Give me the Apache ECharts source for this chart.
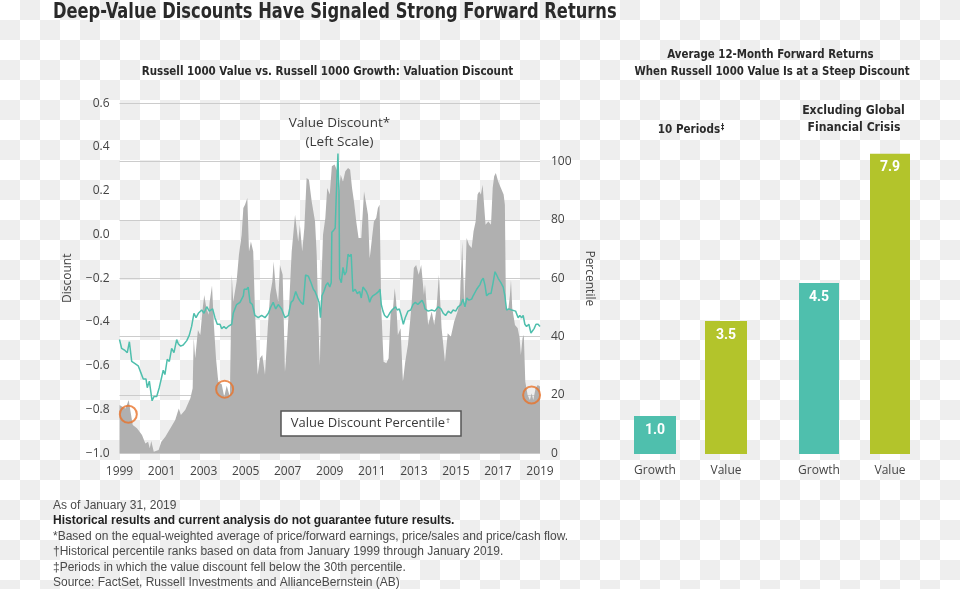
<!DOCTYPE html>
<html>
<head>
<meta charset="utf-8">
<script src="https://cdn.jsdelivr.net/npm/echarts@6/dist/echarts.min.js"></script>
<style>
  html, body { margin: 0; padding: 0; }
  body {
    width: 960px; height: 589px; overflow: hidden;
    background-color: #ffffff;
    background-image: conic-gradient(#eeeeee 25%, #ffffff 0 50%, #eeeeee 0 75%, #ffffff 0);
    background-size: 40px 40px;
  }
  #chart { width: 960px; height: 589px; }
</style>
</head>
<body>
<div id="chart"></div>
<script>
// ---------------- DATA ----------------
// Value discount percentile (right scale), [year, percentile]
const percentilePoints = [
  [1999.00,16.6],[1999.28,15.4],[1999.44,18.3],[1999.51,14.9],[1999.63,9.7],[1999.83,8.6],[2000.07,6.3],[2000.23,3.4],[2000.36,4.0],[2000.44,1.7],
  [2000.51,4.2],[2000.63,0.5],[2000.86,1.1],[2000.99,4.0],[2001.18,5.7],[2001.42,8.6],[2001.65,11.4],[2001.82,15.4],[2001.92,13.1],[2002.13,14.9],
  [2002.37,18.9],[2002.48,22.3],[2002.53,39.5],[2002.60,32.6],[2002.73,42.3],[2002.84,40.6],[2002.96,49.8],[2003.03,54.3],[2003.13,49.8],[2003.24,47.5],
  [2003.29,52.0],[2003.40,57.5],[2003.49,44.0],[2003.59,32.6],[2003.70,24.4],[2003.86,23.7],[2003.98,19.4],[2004.10,23.2],[2004.25,19.4],[2004.34,61.2],
  [2004.41,52.0],[2004.57,58.9],[2004.68,68.1],[2004.81,74.9],[2004.89,84.1],[2004.97,85.2],[2005.08,87.5],[2005.16,69.2],[2005.25,72.6],[2005.36,69.2],
  [2005.44,49.8],[2005.57,26.9],[2005.68,32.6],[2005.79,33.7],[2005.92,26.9],[2006.05,42.9],[2006.16,54.3],[2006.27,58.9],[2006.33,65.8],[2006.43,56.6],
  [2006.55,52.0],[2006.63,64.6],[2006.76,61.2],[2006.87,28.0],[2006.95,36.0],[2007.06,49.8],[2007.19,69.2],[2007.35,81.8],[2007.43,82.4],[2007.50,72.6],
  [2007.58,78.4],[2007.69,69.2],[2007.79,77.2],[2007.90,94.4],[2008.01,93.8],[2008.14,86.4],[2008.30,79.5],[2008.38,68.1],[2008.46,45.0],[2008.53,30.0],
  [2008.61,60.0],[2008.68,74.9],[2008.79,80.7],[2008.88,91.0],[2009.00,88.7],[2009.10,98.4],[2009.23,99.0],[2009.36,96.7],[2009.42,88.7],[2009.52,95.5],
  [2009.63,93.2],[2009.74,96.7],[2009.87,97.8],[2009.97,97.2],[2010.06,91.0],[2010.15,86.4],[2010.26,79.5],[2010.37,73.8],[2010.50,73.8],[2010.63,89.8],
  [2010.74,85.2],[2010.82,81.8],[2010.90,66.9],[2011.01,73.8],[2011.10,79.5],[2011.21,80.7],[2011.29,84.1],[2011.37,85.2],[2011.45,49.8],[2011.56,31.4],
  [2011.69,30.9],[2011.80,32.6],[2011.90,48.6],[2012.01,49.8],[2012.09,56.6],[2012.16,52.0],[2012.24,40.6],[2012.37,42.9],[2012.48,24.6],[2012.59,31.4],
  [2012.72,37.2],[2012.88,49.8],[2013.00,63.5],[2013.11,64.6],[2013.23,61.2],[2013.35,64.6],[2013.48,54.3],[2013.53,58.0],[2013.68,44.0],[2013.85,48.6],
  [2013.97,44.0],[2014.08,49.8],[2014.19,61.2],[2014.32,42.9],[2014.48,31.4],[2014.61,41.2],[2014.76,40.0],[2014.92,45.2],[2015.08,48.6],[2015.19,52.0],
  [2015.30,72.6],[2015.40,49.8],[2015.51,73.8],[2015.62,71.5],[2015.75,70.4],[2015.84,76.1],[2015.94,79.5],[2016.03,88.7],[2016.11,89.8],[2016.19,88.7],
  [2016.27,92.1],[2016.35,91.5],[2016.41,78.4],[2016.54,79.5],[2016.67,78.4],[2016.75,91.0],[2016.82,95.0],[2016.90,96.1],[2017.01,93.2],[2017.14,91.0],
  [2017.27,88.7],[2017.33,85.2],[2017.38,49.8],[2017.49,49.2],[2017.57,54.3],[2017.62,59.5],[2017.68,49.8],[2017.81,44.0],[2017.94,42.9],[2018.03,39.5],
  [2018.09,33.7],[2018.17,39.5],[2018.23,40.6],[2018.30,24.6],[2018.41,20.0],[2018.52,18.3],[2018.60,20.6],[2018.68,18.3],[2018.79,22.3],[2018.89,23.4],
  [2019.00,22.9]
];

// Value discount (left scale), [year, discount]
const discountPoints = [
  [1999.00,-0.48],[1999.10,-0.52],[1999.26,-0.53],[1999.37,-0.54],[1999.47,-0.49],[1999.58,-0.58],[1999.74,-0.59],[1999.89,-0.60],[2000.01,-0.63],[2000.13,-0.66],
  [2000.26,-0.66],[2000.32,-0.70],[2000.42,-0.67],[2000.55,-0.76],[2000.64,-0.74],[2000.77,-0.74],[2000.89,-0.70],[2001.01,-0.65],[2001.08,-0.62],[2001.16,-0.64],
  [2001.27,-0.57],[2001.37,-0.58],[2001.48,-0.52],[2001.59,-0.54],[2001.72,-0.48],[2001.80,-0.50],[2001.91,-0.51],[2002.03,-0.505],[2002.20,-0.485],[2002.32,-0.46],
  [2002.43,-0.42],[2002.54,-0.36],[2002.64,-0.38],[2002.75,-0.36],[2002.91,-0.345],[2003.02,-0.36],[2003.15,-0.33],[2003.27,-0.35],[2003.43,-0.34],[2003.54,-0.38],
  [2003.65,-0.41],[2003.78,-0.41],[2003.86,-0.43],[2003.97,-0.42],[2004.06,-0.43],[2004.17,-0.42],[2004.34,-0.41],[2004.41,-0.36],[2004.57,-0.32],[2004.73,-0.31],
  [2004.89,-0.28],[2004.93,-0.25],[2005.05,-0.25],[2005.12,-0.24],[2005.21,-0.31],[2005.32,-0.32],[2005.44,-0.37],[2005.60,-0.38],[2005.76,-0.37],[2005.92,-0.38],
  [2006.08,-0.36],[2006.20,-0.33],[2006.31,-0.31],[2006.43,-0.34],[2006.55,-0.32],[2006.71,-0.34],[2006.87,-0.38],[2007.03,-0.37],[2007.16,-0.31],[2007.26,-0.30],
  [2007.38,-0.26],[2007.50,-0.29],[2007.63,-0.31],[2007.74,-0.32],[2007.85,-0.185],[2007.98,-0.19],[2008.11,-0.22],[2008.22,-0.25],[2008.30,-0.26],[2008.38,-0.28],
  [2008.49,-0.31],[2008.56,-0.38],[2008.63,-0.28],[2008.72,-0.26],[2008.83,-0.23],[2008.91,-0.22],[2009.00,-0.24],[2009.07,-0.22],[2009.10,0.01],[2009.19,0.02],
  [2009.26,0.03],[2009.31,0.18],[2009.39,0.37],[2009.44,0.18],[2009.47,-0.20],[2009.55,-0.22],[2009.63,-0.15],[2009.71,-0.185],[2009.79,-0.17],[2009.87,-0.09],
  [2009.95,-0.10],[2010.02,-0.09],[2010.10,-0.26],[2010.21,-0.25],[2010.31,-0.27],[2010.42,-0.26],[2010.50,-0.29],[2010.58,-0.24],[2010.66,-0.25],[2010.74,-0.26],
  [2010.82,-0.28],[2010.90,-0.31],[2010.97,-0.29],[2011.05,-0.28],[2011.14,-0.28],[2011.21,-0.27],[2011.33,-0.26],[2011.39,-0.25],[2011.45,-0.32],[2011.53,-0.35],
  [2011.61,-0.37],[2011.73,-0.38],[2011.85,-0.36],[2011.96,-0.345],[2012.05,-0.34],[2012.13,-0.33],[2012.21,-0.345],[2012.31,-0.34],[2012.40,-0.37],[2012.50,-0.41],
  [2012.59,-0.38],[2012.72,-0.35],[2012.85,-0.345],[2012.96,-0.32],[2013.07,-0.31],[2013.19,-0.32],[2013.29,-0.31],[2013.39,-0.30],[2013.48,-0.32],[2013.53,-0.34],
  [2013.68,-0.35],[2013.85,-0.345],[2014.00,-0.35],[2014.16,-0.33],[2014.29,-0.34],[2014.40,-0.36],[2014.51,-0.37],[2014.64,-0.35],[2014.76,-0.36],[2014.87,-0.345],
  [2014.99,-0.35],[2015.11,-0.33],[2015.24,-0.32],[2015.33,-0.295],[2015.43,-0.33],[2015.52,-0.29],[2015.62,-0.30],[2015.75,-0.295],[2015.82,-0.28],[2015.90,-0.285],
  [2015.99,-0.25],[2016.06,-0.24],[2016.14,-0.23],[2016.22,-0.21],[2016.30,-0.20],[2016.38,-0.23],[2016.46,-0.28],[2016.57,-0.27],[2016.67,-0.27],[2016.77,-0.22],
  [2016.86,-0.17],[2016.94,-0.185],[2017.01,-0.20],[2017.14,-0.22],[2017.25,-0.24],[2017.33,-0.28],[2017.41,-0.345],[2017.52,-0.34],[2017.65,-0.345],[2017.73,-0.34],
  [2017.84,-0.35],[2017.96,-0.38],[2018.04,-0.37],[2018.13,-0.38],[2018.20,-0.37],[2018.28,-0.41],[2018.36,-0.42],[2018.47,-0.41],[2018.57,-0.45],[2018.63,-0.45],
  [2018.72,-0.43],[2018.81,-0.41],[2018.91,-0.41],[2019.00,-0.42]
];

// Steep-discount episodes highlighted with circles, [year, percentile]
const highlightPoints = [[1999.42, 13.4], [2004.00, 22.0], [2018.60, 20.0]];

// Right panel: average 12-month forward returns (%)
const barCategories = ['Growth', 'Value'];
const tenPeriodsReturns = [1.0, 3.5];
const exGfcReturns = [4.5, 7.9];

// Axis settings
const xYears = { min: 1999, max: 2019, step: 2 };
const discountAxis = { min: -1.0, max: 0.6, step: 0.2 };
const percentileAxis = { min: 0, max: 120, step: 20, maxLabel: 100 };

// ---------------- STYLE ----------------
const TEAL = '#4fbfad', LIME = '#b3c42b', GREY = '#b0b0b0', ORANGE = '#e8732a';
const COND = '"Liberation Sans Narrow","DejaVu Sans Condensed","DejaVu Sans",sans-serif';
const SANS = '"Open Sans","Noto Sans",sans-serif';
const NOTE = '"Liberation Sans",Arial,sans-serif';
const LABEL_COLOR = '#444444';
const HEAD_COLOR = '#2a2a2a';

const chart = echarts.init(document.getElementById('chart'), null, { renderer: 'canvas' });

function fmtDiscount(v) {
  if (Math.abs(v) < 1e-9) return '0.0';
  return (v < 0 ? '\u2212' : '') + Math.abs(v).toFixed(1);
}

function txt(text, x, y, opts, sx) {
  return {
    type: 'text', x: x, y: y, silent: true, z: 100,
    scaleX: sx || 1,
    style: Object.assign({
      text: text, fill: LABEL_COLOR, fontSize: 12, fontFamily: SANS,
      textAlign: 'left', textVerticalAlign: 'middle'
    }, opts || {})
  };
}

function head(text, x, y, size, sx, align) {
  return txt(text, x, y, {
    fontSize: size, fontWeight: 'bold', fontFamily: COND, fill: HEAD_COLOR,
    textAlign: align || 'center',
    rich: { sup: { fontSize: Math.round(size * 0.6), fontWeight: 'bold', fontFamily: COND, fill: HEAD_COLOR, verticalAlign: 'top', padding: [0, 0, 5, 1] } }
  }, sx);
}

const barLabel = {
  show: true, position: 'insideTop', distance: 7, color: '#ffffff',
  fontSize: 14, fontWeight: 'bold', fontFamily: 'Roboto, "Open Sans", sans-serif',
  formatter: p => Number(p.value).toFixed(1)
};

function barData(values) {
  return values.map((v, i) => ({ value: v, itemStyle: { color: i === 0 ? TEAL : LIME } }));
}

const catAxisCommon = {
  type: 'category', data: barCategories,
  axisLine: { show: false }, axisTick: { show: false },
  axisLabel: { margin: 11, fontSize: 12, color: LABEL_COLOR, fontFamily: SANS }
};

const option = {
  backgroundColor: 'transparent',
  animation: false,
  grid: [
    { left: 119.5, top: 103.3, width: 420.5, height: 350 },
    { left: 619.5, top: 150, width: 142, height: 304 },
    { left: 783.5, top: 150, width: 142, height: 304 }
  ],
  xAxis: [
    {
      type: 'value', gridIndex: 0, min: xYears.min, max: xYears.max, interval: xYears.step,
      axisLine: { show: false }, axisTick: { show: false }, splitLine: { show: false },
      axisLabel: { margin: 12, fontSize: 12, color: LABEL_COLOR, fontFamily: SANS, formatter: v => String(v) }
    },
    Object.assign({ gridIndex: 1 }, catAxisCommon),
    Object.assign({ gridIndex: 2 }, catAxisCommon)
  ],
  yAxis: [
    {
      type: 'value', gridIndex: 0, position: 'left',
      min: discountAxis.min, max: discountAxis.max, interval: discountAxis.step,
      axisLine: { show: false }, axisTick: { show: false }, splitLine: { show: false },
      axisLabel: { margin: 10, fontSize: 12, color: LABEL_COLOR, fontFamily: SANS, formatter: fmtDiscount },
      name: 'Discount', nameLocation: 'middle', nameRotate: 90, nameGap: 46,
      nameTextStyle: { fontSize: 12, color: LABEL_COLOR, fontFamily: SANS }
    },
    {
      type: 'value', gridIndex: 0, position: 'right',
      min: percentileAxis.min, max: percentileAxis.max, interval: percentileAxis.step,
      axisLine: { show: false }, axisTick: { show: false },
      splitLine: { show: true, lineStyle: { color: '#cccccc', width: 1 } },
      axisLabel: { margin: 11, fontSize: 12, color: LABEL_COLOR, fontFamily: SANS,
        formatter: v => (v > percentileAxis.maxLabel ? '' : String(v)) },
      name: 'Percentile', nameLocation: 'middle', nameRotate: -90, nameGap: 43,
      nameTextStyle: { fontSize: 12, color: LABEL_COLOR, fontFamily: SANS }
    },
    { type: 'value', gridIndex: 1, min: 0, max: 8, show: false },
    { type: 'value', gridIndex: 2, min: 0, max: 8, show: false }
  ],
  series: [
    {
      name: 'Value Discount Percentile', type: 'line', xAxisIndex: 0, yAxisIndex: 1,
      data: percentilePoints, symbol: 'none', z: 2,
      lineStyle: { width: 0, opacity: 0 },
      areaStyle: { color: GREY, opacity: 1, origin: 'start' }
    },
    {
      name: 'Value Discount', type: 'line', xAxisIndex: 0, yAxisIndex: 0,
      data: discountPoints, symbol: 'none', z: 3,
      lineStyle: { width: 1.5, color: TEAL }
    },
    {
      name: 'Highlights', type: 'scatter', xAxisIndex: 0, yAxisIndex: 1,
      data: highlightPoints, symbol: 'circle', symbolSize: 17, z: 4,
      itemStyle: { color: 'rgba(0,0,0,0)', borderColor: ORANGE, borderWidth: 2 }
    },
    {
      name: '10 Periods', type: 'bar', xAxisIndex: 1, yAxisIndex: 2,
      data: barData(tenPeriodsReturns), barWidth: 42, label: barLabel
    },
    {
      name: 'Excluding GFC', type: 'bar', xAxisIndex: 2, yAxisIndex: 3,
      data: barData(exGfcReturns), barWidth: 40, label: barLabel
    }
  ],
  graphic: [
    head('Deep-Value Discounts Have Signaled Strong Forward Returns', 53, 12.5, 21, 0.862, 'left'),
    head('Russell 1000 Value vs. Russell 1000 Growth: Valuation Discount', 327.5, 72, 13, 0.883),
    head('Average 12-Month Forward Returns', 770.5, 55, 13, 0.877),
    head('When Russell 1000 Value Is at a Steep Discount', 772, 72, 13, 0.873),
    head('10 Periods{sup|\u2021}', 691, 130, 13, 0.89),
    head('Excluding Global', 853.5, 111, 13, 0.935),
    head('Financial Crisis', 854, 128, 13, 0.93),

    txt('Value Discount*', 339.5, 123, { fontSize: 13.5, textAlign: 'center', fill: '#3a3a3a' }),
    txt('(Left Scale)', 339.5, 142, { fontSize: 13.5, textAlign: 'center', fill: '#3a3a3a' }),
    {
      type: 'rect', silent: true, z: 90,
      shape: { x: 281, y: 411, width: 180, height: 25 },
      style: { fill: '#ffffff', stroke: '#555555', lineWidth: 1.5 }
    },
    txt('Value Discount Percentile{sup|\u2020}', 370.5, 423.5, {
      fontSize: 13, textAlign: 'center', fill: '#3a3a3a',
      rich: { sup: { fontSize: 8, fontFamily: SANS, fill: '#3a3a3a', verticalAlign: 'top', padding: [0, 0, 6, 1] } }
    }),

    txt('As of January 31, 2019', 53, 506, { fontSize: 12, fontFamily: NOTE, fill: '#4a4a4a' }),
    txt('Historical results and current analysis do not guarantee future results.', 53, 521,
      { fontSize: 12, fontWeight: 'bold', fontFamily: NOTE, fill: '#222222' }),
    txt('*Based on the equal-weighted average of price/forward earnings, price/sales and price/cash flow.', 53, 537,
      { fontSize: 12, fontFamily: NOTE, fill: '#4a4a4a' }),
    txt('\u2020Historical percentile ranks based on data from January 1999 through January 2019.', 53, 552,
      { fontSize: 12, fontFamily: NOTE, fill: '#4a4a4a' }),
    txt('\u2021Periods in which the value discount fell below the 30th percentile.', 53, 568,
      { fontSize: 12, fontFamily: NOTE, fill: '#4a4a4a' }),
    txt('Source: FactSet, Russell Investments and AllianceBernstein (AB)', 53, 583,
      { fontSize: 12, fontFamily: NOTE, fill: '#4a4a4a' })
  ]
};

chart.setOption(option);
</script>
</body>
</html>
